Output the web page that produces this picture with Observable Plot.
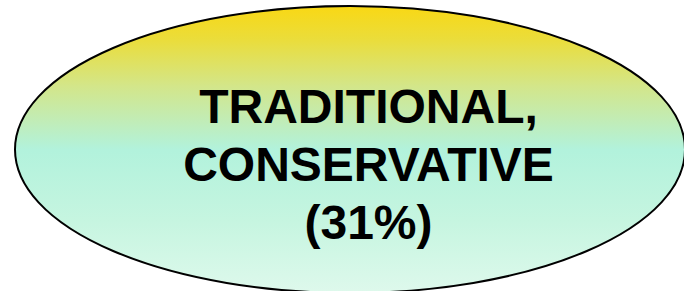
<!DOCTYPE html>
<html>
<head>
<meta charset="utf-8">
<script src="https://cdn.jsdelivr.net/npm/d3@7"></script>
<script src="https://cdn.jsdelivr.net/npm/@observablehq/plot@0.6"></script>
<style>
  html, body { margin: 0; padding: 0; background: #ffffff; }
  svg { display: block; }
</style>
</head>
<body>
<div id="chart"></div>
<script>
// Segment label and share
const labelLines = ["TRADITIONAL,", "CONSERVATIVE", "(31%)"];
const shareValue = [31];
// Gradient stops (offset within ellipse, colour)
const gradientOffsets = [0, 0.12, 0.28, 0.5, 0.75, 1];
const gradientColors = ["#f9d814", "#eadd3c", "#d3e68a", "#b2f2dc", "#c6f5e0", "#def9ec"];

const W = 684, H = 291;
const shape = {cx: 350, cy: 149.5, rx: 335, ry: 143.5};

const ellipseMark = (index, scales, values, dimensions, context) => {
  const g = d3.create("svg:g");
  const defs = g.append("defs");
  const grad = defs.append("linearGradient")
    .attr("id", "ovalGrad").attr("x1", 0).attr("y1", 0).attr("x2", 0).attr("y2", 1);
  gradientOffsets.forEach((o, i) => {
    grad.append("stop").attr("offset", o).attr("stop-color", gradientColors[i]);
  });
  const cx = scales.x(shape.cx), cy = scales.y(shape.cy);
  const rx = scales.x(shape.cx + shape.rx) - cx;
  const ry = scales.y(shape.cy + shape.ry) - cy;
  g.append("ellipse")
    .attr("cx", cx).attr("cy", cy).attr("rx", rx).attr("ry", Math.abs(ry))
    .attr("fill", "url(#ovalGrad)")
    .attr("stroke", "#000").attr("stroke-width", 2);
  return g.node();
};

const chart = Plot.plot({
  width: W,
  height: H,
  margin: 0,
  x: {domain: [0, W], range: [0, W], axis: null},
  y: {domain: [0, H], range: [0, H], axis: null},
  marks: [
    ellipseMark,
    Plot.text(labelLines, {
      x: () => 368,
      y: (d, i) => 122 + i * 58,
      text: d => d,
      textAnchor: "middle",
      lineAnchor: "bottom",
      fontSize: 48,
      fontWeight: "bold",
      fontFamily: "Liberation Sans, Arial, sans-serif",
      fill: "#000"
    })
  ]
});
chart.style.fontFamily = "Liberation Sans, Arial, sans-serif";
document.getElementById("chart").append(chart);
</script>
</body>
</html>
